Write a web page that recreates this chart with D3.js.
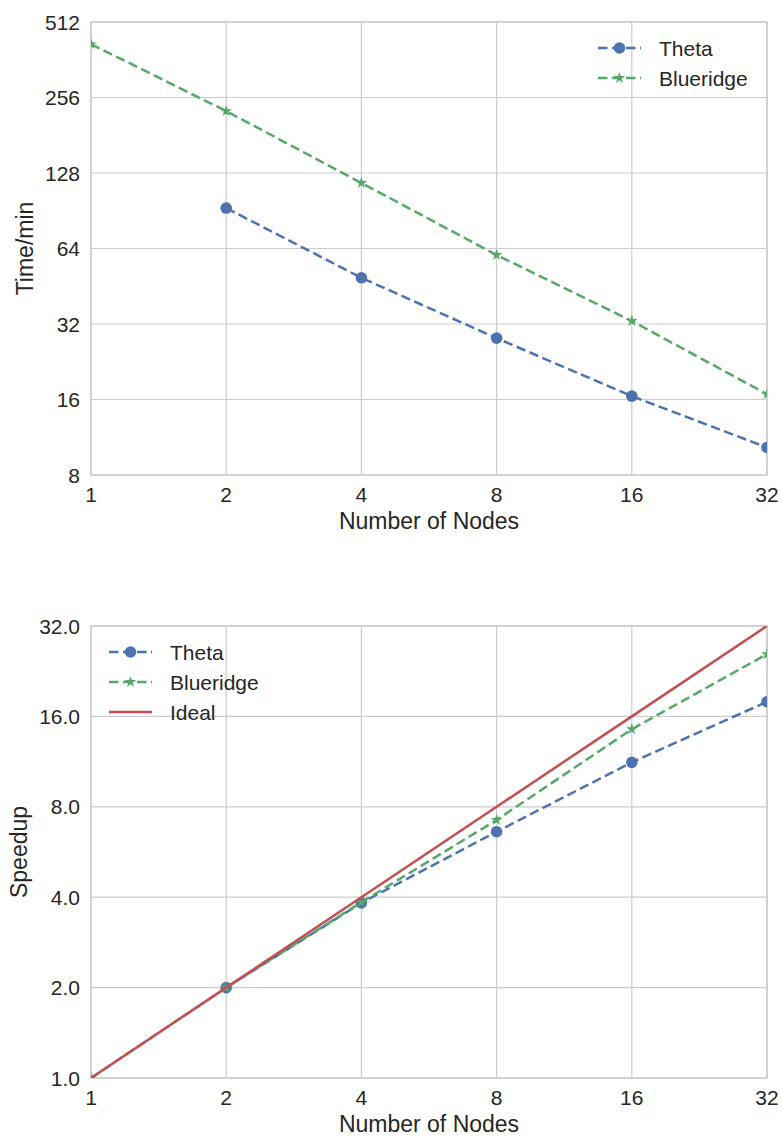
<!DOCTYPE html>
<html><head><meta charset="utf-8">
<script src="https://cdn.jsdelivr.net/npm/d3@7"></script>
<style>body{margin:0;background:#fff;} text{font-family:"Liberation Sans",Arial,sans-serif;fill:#262626;}</style>
</head><body>
<svg id="c" width="782" height="1138"></svg>
<script>
const nodes = [1, 2, 4, 8, 16, 32];
const thetaNodes = [2, 4, 8, 16, 32];
const thetaTime = [92.8, 48.9, 28.1, 16.5, 10.3];
const blueNodes = [1, 2, 4, 8, 16, 32];
const blueTime = [418, 226, 116.8, 60.3, 32.9, 16.8];
const timeTicks = [8, 16, 32, 64, 128, 256, 512];
const thetaSpeed = [2.0, 3.83, 6.61, 11.25, 17.9];
const blueSpeed = [1.0, 2.0, 3.85, 7.23, 14.5, 25.8];
const idealSpeed = [1, 2, 4, 8, 16, 32];
const speedTicks = [1, 2, 4, 8, 16, 32];

const C = {blue:"#4C72B0", green:"#55A868", red:"#C44E52", grid:"#cccccc"};
const svg = d3.select("#c");
const defs = svg.append("defs");

function panel(id, top, bottom, yDomain, yTicks, yFmt, yLabel, yLabelX) {
  const x = d3.scaleLog().base(2).domain([1, 32]).range([91, 767]);
  const y = d3.scaleLog().base(2).domain(yDomain).range([bottom, top]);
  const g = svg.append("g");
  defs.append("clipPath").attr("id", id).append("rect")
    .attr("x", 91).attr("y", top).attr("width", 676).attr("height", bottom - top);
  g.selectAll(".vg").data(nodes).enter().append("line")
    .attr("x1", d => x(d)).attr("x2", d => x(d)).attr("y1", top).attr("y2", bottom)
    .attr("stroke", C.grid).attr("stroke-width", 1.2);
  g.selectAll(".hg").data(yTicks).enter().append("line")
    .attr("y1", d => y(d)).attr("y2", d => y(d)).attr("x1", 91).attr("x2", 767)
    .attr("stroke", C.grid).attr("stroke-width", 1.2);
  g.append("rect").attr("x", 91).attr("y", top).attr("width", 676).attr("height", bottom - top)
    .attr("fill", "none").attr("stroke", C.grid).attr("stroke-width", 1.5);
  g.selectAll(".xt").data(nodes).enter().append("text")
    .attr("x", d => x(d)).attr("y", bottom + 27).attr("text-anchor", "middle")
    .attr("font-size", 21).text(d => d);
  g.selectAll(".yt").data(yTicks).enter().append("text")
    .attr("x", 80).attr("y", d => y(d) + 7.5).attr("text-anchor", "end")
    .attr("font-size", 21).text(yFmt);
  g.append("text").attr("x", 429).attr("y", bottom + 54).attr("text-anchor", "middle")
    .attr("font-size", 23).text("Number of Nodes");
  g.append("text").attr("transform", `translate(${yLabelX},${(top + bottom) / 2}) rotate(-90)`)
    .attr("text-anchor", "middle").attr("font-size", 23).text(yLabel);
  const plot = g.append("g").attr("clip-path", `url(#${id})`);
  return {x, y, g, plot, top, bottom};
}

function series(p, xs, ys, color, dashed, marker) {
  const line = d3.line().x(d => p.x(d[0])).y(d => p.y(d[1]));
  const data = xs.map((v, i) => [v, ys[i]]);
  p.plot.append("path").datum(data).attr("d", line).attr("fill", "none")
    .attr("stroke", color).attr("stroke-width", 2.5)
    .attr("stroke-dasharray", dashed ? "9.5,4.5" : null);
  drawMarkers(p.plot, data.map(d => [p.x(d[0]), p.y(d[1])]), color, marker);
}
function drawMarkers(g, pts, color, marker) {
  if (marker === "circle") {
    g.selectAll(null).data(pts).enter().append("circle")
      .attr("cx", d => d[0]).attr("cy", d => d[1]).attr("r", 5.8).attr("fill", color);
  } else if (marker === "star") {
    const sym = d3.symbol().type(d3.symbolStar).size(42);
    g.selectAll(null).data(pts).enter().append("path")
      .attr("transform", d => `translate(${d[0]},${d[1]})`).attr("d", sym).attr("fill", color);
  }
}
function legend(g, x0, y0, items) {
  items.forEach((it, i) => {
    const yy = y0 + i * 30;
    g.append("line").attr("x1", x0).attr("x2", x0 + 43).attr("y1", yy).attr("y2", yy)
      .attr("stroke", it.color).attr("stroke-width", 2.5)
      .attr("stroke-dasharray", it.dashed ? "9.5,4.5" : null);
    if (it.marker) drawMarkers(g, [[x0 + 21.5, yy]], it.color, it.marker);
    g.append("text").attr("x", x0 + 61).attr("y", yy + 7.5).attr("font-size", 21).text(it.name);
  });
}

// Top panel
const p1 = panel("clipTop", 22, 475, [8, 512], timeTicks, d => d, "Time/min", 33);
series(p1, blueNodes, blueTime, C.green, true, "star");
series(p1, thetaNodes, thetaTime, C.blue, true, "circle");
legend(p1.g, 598, 48, [
  {name:"Theta", color:C.blue, dashed:true, marker:"circle"},
  {name:"Blueridge", color:C.green, dashed:true, marker:"star"}
]);

// Bottom panel
const p2 = panel("clipBot", 626, 1078, [1, 32], speedTicks, d => d.toFixed(1), "Speedup", 27);
series(p2, thetaNodes, thetaSpeed, C.blue, true, "circle");
series(p2, blueNodes, blueSpeed, C.green, true, "star");
series(p2, nodes, idealSpeed, C.red, false, null);
legend(p2.g, 109, 652, [
  {name:"Theta", color:C.blue, dashed:true, marker:"circle"},
  {name:"Blueridge", color:C.green, dashed:true, marker:"star"},
  {name:"Ideal", color:C.red, dashed:false, marker:null}
]);
</script>
</body></html>
